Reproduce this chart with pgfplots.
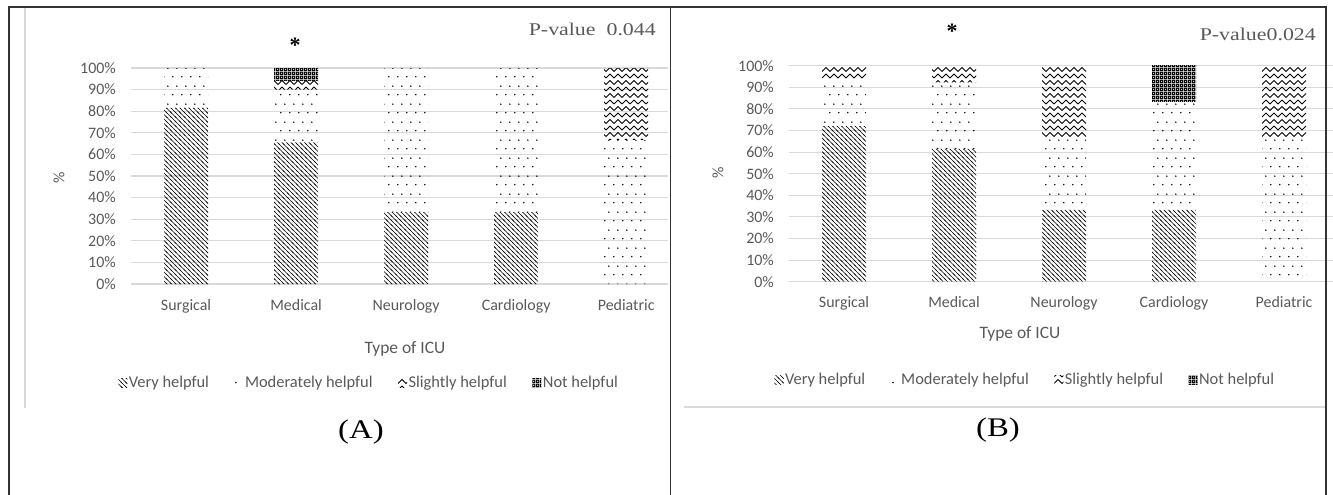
\documentclass[border=0pt]{standalone}
\usepackage{fontspec}
\setmainfont{Liberation Serif}
\newfontfamily\calibri{Carlito}
\newfontfamily\serifwide[FakeStretch=1.22]{Liberation Serif}
\usepackage{pgfplots}
\pgfplotsset{compat=1.18}
\usetikzlibrary{patterns}

\definecolor{txt}{HTML}{595959}
\definecolor{gridc}{HTML}{D9D9D9}

% Excel-like fill patterns
\pgfdeclarepatternformonly{vhelp}{\pgfqpoint{-1bp}{-1bp}}{\pgfqpoint{5.5bp}{5.5bp}}{\pgfqpoint{4.5bp}{4.5bp}}{%
  \pgfsetlinewidth{0.65bp}%
  \pgfpathmoveto{\pgfqpoint{-1bp}{5.5bp}}\pgfpathlineto{\pgfqpoint{5.5bp}{-1bp}}%
  \pgfusepath{stroke}}
\pgfdeclarepatternformonly{mhelp}{\pgfpointorigin}{\pgfqpoint{9bp}{18bp}}{\pgfqpoint{9bp}{18bp}}{%
  \pgfpathcircle{\pgfqpoint{2bp}{4.5bp}}{0.85bp}%
  \pgfpathcircle{\pgfqpoint{6.5bp}{13.5bp}}{0.85bp}%
  \pgfusepath{fill}}
\pgfdeclarepatternformonly{shelp}{\pgfqpoint{0bp}{-1bp}}{\pgfqpoint{8bp}{7bp}}{\pgfqpoint{8bp}{6.5bp}}{%
  \pgfsetlinewidth{0.9bp}%
  \pgfpathmoveto{\pgfqpoint{0bp}{3bp}}%
  \pgfpathcurveto{\pgfqpoint{1.3bp}{5.5bp}}{\pgfqpoint{2.7bp}{5.5bp}}{\pgfqpoint{4bp}{3bp}}%
  \pgfpathcurveto{\pgfqpoint{5.3bp}{0.5bp}}{\pgfqpoint{6.7bp}{0.5bp}}{\pgfqpoint{8bp}{3bp}}%
  \pgfusepath{stroke}}
\pgfdeclarepatternformonly{nhelp}{\pgfpointorigin}{\pgfqpoint{4bp}{4bp}}{\pgfqpoint{4bp}{4bp}}{%
  \pgfpathrectangle{\pgfpointorigin}{\pgfqpoint{4bp}{4bp}}%
  \pgfpathcircle{\pgfqpoint{2bp}{2bp}}{1.1bp}%
  \pgfseteorule\pgfusepath{fill}}

\pgfplotsset{
  icu/.style={
    anchor=south west, scale only axis, height=216bp,
    ybar stacked, bar width=44bp,
    xmin=-0.5, ymin=0, ymax=100,
    xtick={0,1,2,3,4},
    xticklabels={Surgical,Medical,Neurology,Cardiology,Pediatric},
    ytick={0,10,20,30,40,50,60,70,80,90,100},
    yticklabels={0\%,10\%,20\%,30\%,40\%,50\%,60\%,70\%,80\%,90\%,100\%},
    ymajorgrids, grid style={gridc, line width=1.1bp},
    axis line style={draw=none}, major tick length=0pt,
    tick label style={font=\calibri\fontsize{16}{19}\selectfont, text=txt},
    xticklabel style={anchor=base, yshift=-26bp},
    yticklabel style={anchor=east, inner sep=0pt, xshift=-15bp},
    legend columns=4,
    legend style={draw=none, fill=none, anchor=center,
      font=\calibri\fontsize{16.5}{19}\selectfont, text=txt,
      /tikz/every even column/.append style={column sep=24bp},
      nodes={inner sep=1.5bp}},
    legend image code/.code={\path[##1] (1bp,-4.5bp) rectangle (10bp,4.5bp);},
    clip=false,
  },
  vh/.style={pattern=vhelp, pattern color=black, draw=none},
  mh/.style={pattern=mhelp, pattern color=black, draw=none},
  sh/.style={pattern=shelp, pattern color=black, draw=none},
  nh/.style={pattern=nhelp, pattern color=black, draw=none},
}

\begin{document}
\begin{tikzpicture}
\path[use as bounding box] (0,0) rectangle (1333bp,-495bp);

% panel A
\begin{axis}[icu, at={(131bp,-284bp)}, width=537bp, xmax=4.38,
  legend style={at={(0.443,-0.458)}}]
\addplot[vh] coordinates {(0,81.5) (1,65.6) (2,33.3) (3,33.3) (4,0)};
\addplot[mh] coordinates {(0,18.5) (1,24.4) (2,66.7) (3,66.7) (4,66.7)};
\addplot[sh] coordinates {(0,0) (1,4.4) (2,0) (3,0) (4,33.3)};
\addplot[nh] coordinates {(0,0) (1,5.6) (2,0) (3,0) (4,0)};
\legend{Very helpful, Moderately helpful, Slightly helpful, Not helpful}
\end{axis}

% panel B
\begin{axis}[icu, at={(789bp,-281.7bp)}, width=544bp, xmax=4.445,
  legend style={at={(0.434,-0.455)}}]
\addplot[vh] coordinates {(0,72) (1,61.5) (2,33.3) (3,33.3) (4,0)};
\addplot[mh] coordinates {(0,22) (1,30.8) (2,33.3) (3,50) (4,66.7)};
\addplot[sh] coordinates {(0,6) (1,7.7) (2,33.4) (3,0) (4,33.3)};
\addplot[nh] coordinates {(0,0) (1,0) (2,0) (3,16.7) (4,0)};
\legend{Very helpful, Moderately helpful, Slightly helpful, Not helpful}
\end{axis}

% frames
\draw[gridc, line width=1.2bp] (25bp,-7bp) -- (25bp,-408bp);
\draw[gridc, line width=1.2bp] (684bp,-407bp) -- (1326bp,-407bp);
\draw[black!80, line width=1.5bp] (9bp,-495bp) -- (9bp,-7bp) -- (1326bp,-7bp) -- (1326bp,-495bp);
\draw[black!80, line width=1.5bp] (670.5bp,-7bp) -- (670.5bp,-495bp);

% texts
\begin{scope}[every node/.style={inner sep=0pt}]
\node[anchor=east, text=txt, font=\serifwide\fontsize{18}{20}\selectfont] at (656bp,-29bp) {P-value~~0.044};
\node[anchor=east, text=txt, font=\serifwide\fontsize{18}{20}\selectfont] at (1316bp,-34bp) {P-value0.024};
\node[font=\bfseries\fontsize{22}{24}\selectfont] at (295bp,-45bp) {*};
\node[font=\bfseries\fontsize{22}{24}\selectfont] at (952bp,-31bp) {*};
\node[rotate=90, text=txt, font=\calibri\fontsize{16}{19}\selectfont] at (59bp,-178bp) {\%};
\node[rotate=90, text=txt, font=\calibri\fontsize{16}{19}\selectfont] at (718bp,-173bp) {\%};
\node[text=txt, font=\calibri\fontsize{17.5}{20}\selectfont] at (405bp,-349bp) {Type of ICU};
\node[text=txt, font=\calibri\fontsize{17.5}{20}\selectfont] at (1020bp,-334bp) {Type of ICU};
\node[font=\serifwide\fontsize{27}{30}\selectfont] at (361bp,-432bp) {(A)};
\node[font=\serifwide\fontsize{27}{30}\selectfont] at (998bp,-430bp) {(B)};
\end{scope}
\end{tikzpicture}
\end{document}
